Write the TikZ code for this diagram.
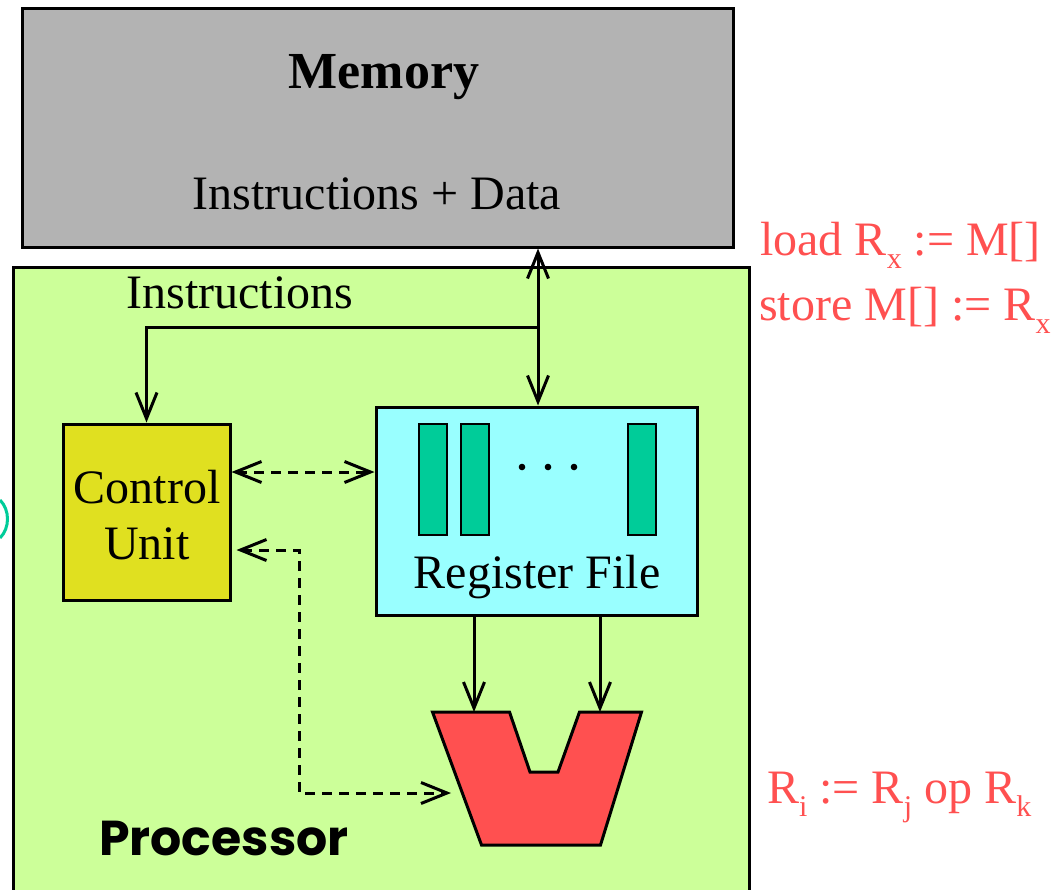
\documentclass[tikz,border=0pt]{standalone}
\usepackage{fontspec}
\setmainfont{Liberation Serif}
\newfontfamily\procfont{Poppins}
\usetikzlibrary{arrows.meta}
\definecolor{memgray}{HTML}{B3B3B3}
\definecolor{procgreen}{HTML}{CCFF99}
\definecolor{cuyellow}{HTML}{E0E020}
\definecolor{rfcyan}{HTML}{99FFFF}
\definecolor{regteal}{HTML}{00CC99}
\definecolor{alured}{HTML}{FF5050}
\newcommand{\sub}[1]{\raisebox{-0.28em}{\fontsize{30}{30}\selectfont #1}}
\begin{document}
\begin{tikzpicture}[x=1pt,y=-1pt,
  box/.style={draw=black, line width=3pt, inner sep=0pt},
  regbar/.style={box, line width=2.5pt, fill=regteal, minimum width=28pt, minimum height=111pt},
  txt/.style={font=\fontsize{48}{56}\selectfont, inner sep=0pt, anchor=base},
  redtxt/.style={txt, text=alured, anchor=base west},
  barb/.tip={Straight Barb[length=26pt,width=21pt]},
  arr/.style={line width=3pt, -{barb}},
  darr/.style={line width=3pt, dash pattern=on 10pt off 7pt}]
\clip (0,0) rectangle (1059,889);

% memory
\node[box, fill=memgray, minimum width=711pt, minimum height=239pt] (mem) at (377.5,127.5) {};
\node[txt, font=\fontsize{52}{60}\selectfont\bfseries] (memlbl) at (384,88) {Memory};
\node[txt] (memdata) at (377,209) {Instructions + Data};

% processor
\node[box, fill=procgreen, minimum width=736pt, minimum height=640pt] (proc) at (381,587) {};
\node[inner sep=0pt, anchor=base west, font=\procfont\bfseries\fontsize{49}{56}\selectfont] (proclbl) at (99,855) {Processor};

% control unit
\node[box, fill=cuyellow, minimum width=167pt, minimum height=176pt] (cu) at (146.5,512) {};
\node[txt] (cu1) at (147,503) {Control};
\node[txt] (cu2) at (147,559) {Unit};

% register file
\node[box, fill=rfcyan, minimum width=321pt, minimum height=208pt] (rf) at (536.5,511) {};
\node[regbar] (r1) at (433,479.5) {};
\node[regbar] (r2) at (475,479.5) {};
\node[regbar] (r3) at (642,479.5) {};
\foreach \dx in {522,548,574} \fill (\dx,467) circle (3.3pt);
\node[txt] (rflbl) at (537,588) {Register File};

% ALU
\draw[line width=3pt, line join=miter, fill=alured]
  (432.5,712) -- (509.5,712) -- (530,772) -- (558,772) -- (579.5,712) -- (641.5,712)
  -- (600.5,845) -- (481.5,845) -- cycle;
\coordinate (alua) at (474,712);
\coordinate (alub) at (600,712);
\coordinate (aluc) at (451,793);

% buses
\coordinate (bus) at (538,327);
\draw[line width=3pt, {barb}-{barb}] (bus |- mem.south) -- (bus |- rf.north);
\draw[arr] (bus) -| (cu.north);
\node[txt] (instr) at (240,308) {Instructions};
\draw[arr] (rf.south -| alua) -- (alua);
\draw[arr] (rf.south -| alub) -- (alub);

% control signals
\coordinate (ctl) at (0,472);
\draw[darr, {barb}-{barb}] (cu.east |- ctl) -- (rf.west |- ctl);
\coordinate (ctlb) at (299,550);
\draw[darr, {barb}-{barb}] (cu.east |- ctlb) ++(5,0) -- (ctlb) |- (aluc);

% operations
\node[redtxt] (ld) at (760,255) {load R\sub{x} := M[]};
\node[redtxt] (st) at (759,320) {store M[] := R\sub{x}};
\node[redtxt] (op) at (767,803) {R\sub{i} := R\sub{j} op R\sub{k}};

% bracket at the left edge
\draw[regteal, line width=3pt] (0,500) .. controls (10,510) and (10,528) .. (0,538);
\end{tikzpicture}
\end{document}
